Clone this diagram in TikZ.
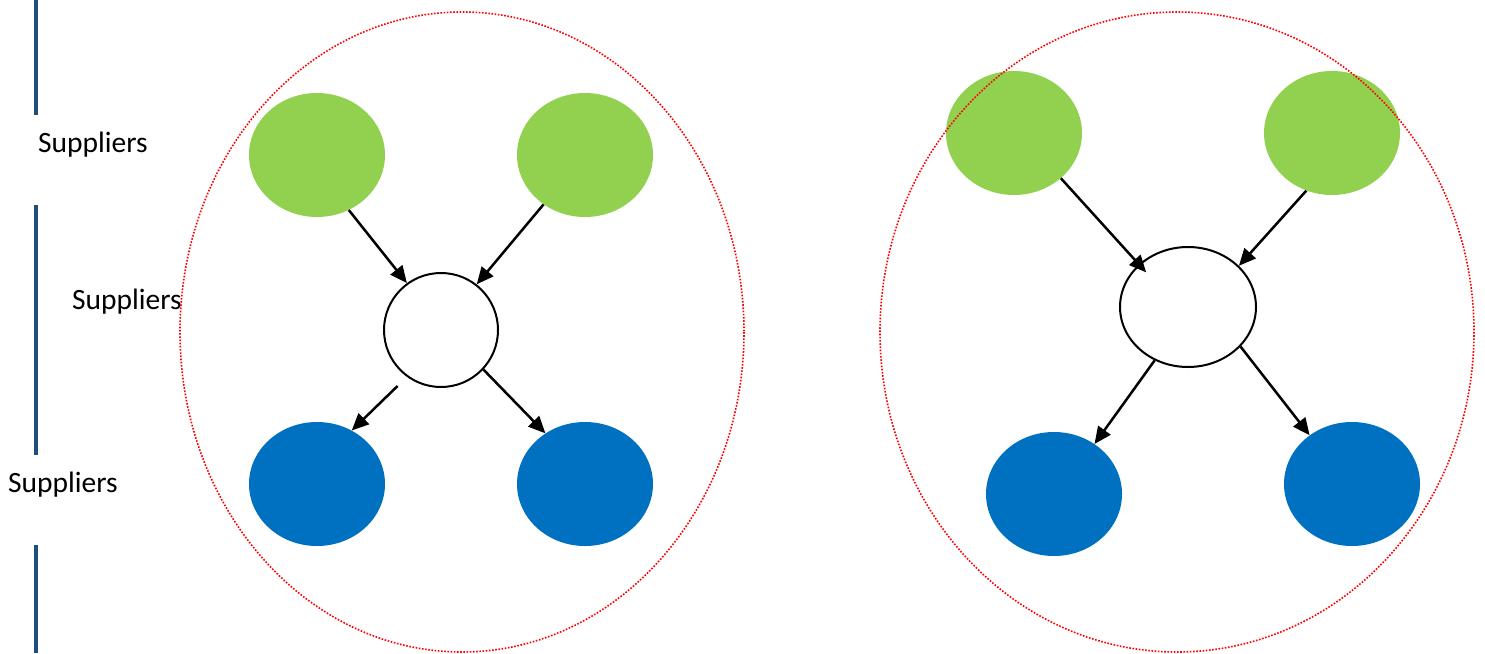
\documentclass[tikz,border=0pt]{standalone}
\usepackage{fontspec}
\setmainfont{Carlito}
\usetikzlibrary{shapes.geometric,arrows.meta}
\definecolor{suppgreen}{HTML}{92D050}
\definecolor{custblue}{HTML}{0070C0}
\definecolor{barblue}{HTML}{1F4E79}
\tikzstyle{supplier}=[ellipse,fill=suppgreen,inner sep=0pt,minimum width=136pt,minimum height=124pt]
\tikzstyle{customer}=[ellipse,fill=custblue,inner sep=0pt,minimum width=136pt,minimum height=124pt]
\tikzstyle{hub}=[ellipse,draw,line width=2pt,fill=white,inner sep=0pt]
\tikzstyle{flow}=[-{Triangle[length=17pt,width=15pt]},line width=2.5pt]
\tikzstyle{boundary}=[draw=red,line width=1.6pt,dash pattern=on 1.6pt off 1.6pt]
\tikzstyle{tier}=[draw=barblue,line width=4pt]
\tikzstyle{tierlabel}=[anchor=west,inner sep=0pt,font=\fontsize{29.5}{34}\selectfont]

\begin{document}
\begin{tikzpicture}[x=1pt,y=-1pt]
\useasboundingbox (0,0) rectangle (1485,653);
% tier bars and labels
\draw[tier] (36,0) -- (36,115);
\draw[tier] (36,205) -- (36,455);
\draw[tier] (36,545) -- (36,653);
\node[tierlabel] (lab1) at (38,145) {Suppliers};
\node[tierlabel] (lab2) at (72,302) {Suppliers};
\node[tierlabel] (lab3) at (8,485) {Suppliers};
% left network
\node[supplier] (supA) at (317,155) {};
\node[supplier] (supB) at (585,155) {};
\node[hub,minimum width=114pt,minimum height=114pt] (hubL) at (441,330) {};
\node[customer] (cusA) at (317,484) {};
\node[customer] (cusB) at (585,484) {};
\draw[flow] (supA.-60) -- (hubL.126);
\draw[flow] (supB.230) -- (hubL.52);
\draw[flow,shorten <=13pt] (hubL.234) -- (cusA.57);
\draw[flow] (hubL.-43) -- (cusB.128);
% right network
\node[supplier] (supC) at (1014,133) {};
\node[supplier] (supD) at (1332,133) {};
\node[hub,minimum width=136pt,minimum height=120pt] (hubR) at (1188,307) {};
\node[customer] (cusC) at (1054,494) {};
\node[customer] (cusD) at (1352,484) {};
\draw[flow,shorten >=-11pt] (supC.-44) -- (hubR.139);
\draw[flow] (supD.246) -- (hubR.39);
\draw[flow] (hubR.238) -- (cusC.51);
\draw[flow] (hubR.-37) -- (cusD.131);
% boundaries on top
\draw[boundary] (462,332) ellipse [x radius=282, y radius=320];
\draw[boundary] (1177,332) ellipse [x radius=297, y radius=320];
\end{tikzpicture}
\end{document}
